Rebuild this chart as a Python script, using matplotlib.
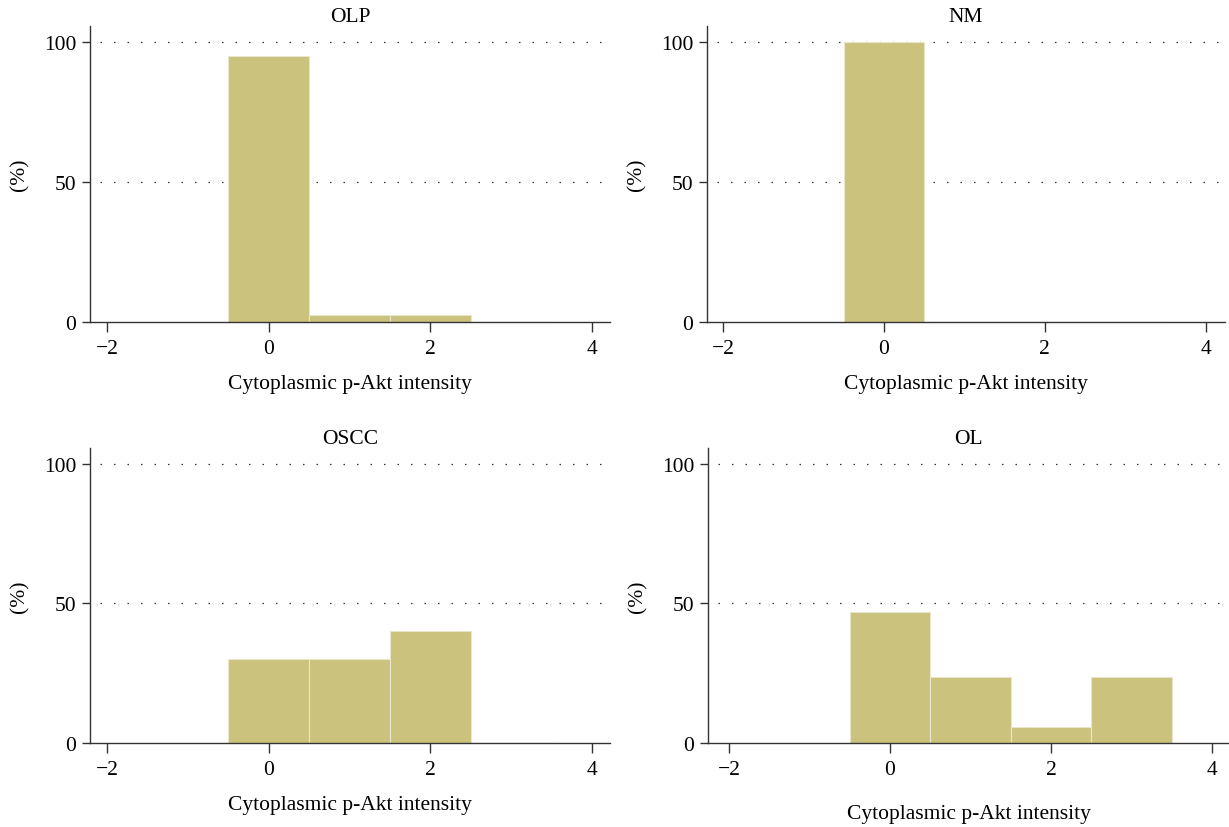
import matplotlib
matplotlib.use("Agg")
import matplotlib.pyplot as plt

plt.rcParams['font.family'] = ['Liberation Serif', 'DejaVu Serif']

# Data (percent of cases by cytoplasmic p-Akt intensity)
intensity = [0, 1, 2, 3]
olp = [95.0, 2.5, 2.5, 0.0]
nm = [100.0, 0.0, 0.0, 0.0]
oscc = [30.0, 30.0, 40.0, 0.0]
ol = [47.06, 23.53, 5.88, 23.53]

titles = ["OLP", "NM", "OSCC", "OL"]
series = [olp, nm, oscc, ol]
xticks = [-2, 0, 2, 4]
yticks = [0, 50, 100]
xlabel = "Cytoplasmic p-Akt intensity"
ylabel = "(%)"

W, H = 1229, 828
fig = plt.figure(figsize=(W / 100, H / 100), dpi=100)

# axes boxes in pixels: left, right, top, bottom
boxes = [
    (90, 610, 27, 323),
    (707, 1225, 27, 323),
    (90, 610, 449, 744),
    (708, 1229, 449, 744),
]
xlims = [(-2.21, 4.22), (-2.2, 4.24), (-2.21, 4.22), (-2.26, 4.21)]
xlabel_pad = [12, 12, 12, 18.5]

bar_color = "#cbc27d"
spine_color = "#333333"
fs = 15.5

for i, (l, r, t, b) in enumerate(boxes):
    ax = fig.add_axes([l / W, 1 - b / H, (r - l) / W, (b - t) / H])
    ax.bar(intensity, series[i], width=1.0, color=bar_color,
           edgecolor="#e9e6cc", linewidth=0.8, zorder=2)
    ax.set_xlim(*xlims[i])
    ax.set_ylim(0, 105.7)
    ax.set_xticks(xticks)
    ax.set_xticklabels(["\u22122", "0", "2", "4"])
    ax.set_yticks(yticks)
    for y in (50, 100):
        ax.plot([xlims[i][0] + 0.12, xlims[i][1]], [y, y], color="#333333",
                linewidth=0.9, linestyle=(0, (1.2, 9.6)), zorder=1)
    for s in ("top", "right"):
        ax.spines[s].set_visible(False)
    for s in ("left", "bottom"):
        ax.spines[s].set_color(spine_color)
        ax.spines[s].set_linewidth(1.0)
    ax.tick_params(axis="x", length=7, width=1.0, color=spine_color,
                   labelsize=fs, pad=5, direction="out")
    ax.tick_params(axis="y", length=6, width=1.0, color=spine_color,
                   labelsize=fs, pad=4, direction="out")
    ax.set_title(titles[i], fontsize=fs, pad=3)
    ax.set_xlabel(xlabel, fontsize=fs, labelpad=xlabel_pad[i])
    ax.set_ylabel(ylabel, fontsize=fs, labelpad=10)

fig.savefig("out.png", dpi=100)
